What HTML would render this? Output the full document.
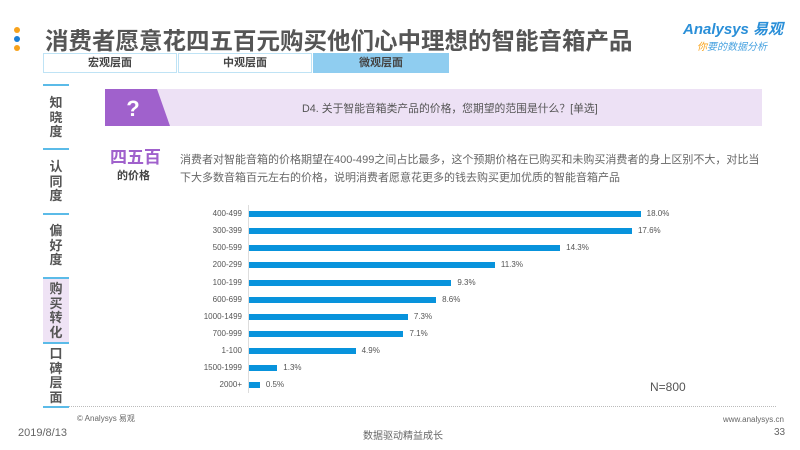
<!DOCTYPE html>
<html><head><meta charset="utf-8"><style>
body{margin:0;width:800px;height:450px;background:#fff;position:relative;overflow:hidden;font-family:"Liberation Sans","Noto Sans CJK SC",sans-serif;color:#555}
.a{position:absolute;white-space:nowrap}
.dot{position:absolute;width:6px;height:6px;border-radius:3px;left:14px}
.tab{position:absolute;top:53px;height:20px;width:134px;border:1px solid #bfe3f5;box-sizing:border-box;text-align:center;font-size:11px;font-weight:bold;line-height:19px;color:#444}
.sl{position:absolute;left:43px;width:26px;height:2px;background:#5bbbe8}
.sv{position:absolute;left:43px;width:26px;text-align:center;font-size:13px;font-weight:bold;line-height:14.5px;color:#555}
.lbl{position:absolute;right:558px;font-size:8px;color:#555;text-align:right}
.bar{position:absolute;left:249px;height:6px;background:#0893dc}
.val{position:absolute;font-size:8px;color:#555}
</style></head><body>
<div class="dot" style="top:27px;background:#f7a21b"></div>
<div class="dot" style="top:36px;background:#1b7fd6"></div>
<div class="dot" style="top:45px;background:#f7a21b"></div>
<div class="a" style="left:45px;top:22px;font-size:23.5px;font-weight:bold;color:#555">消费者愿意花四五百元购买他们心中理想的智能音箱产品</div>
<div class="a" style="left:683px;top:18px;font-size:15px;color:#2a8fd8;font-style:italic;font-weight:bold">Analysys 易观</div>
<div class="a" style="left:697px;top:38px;font-size:10px;color:#4aa3e0;font-style:italic"><span style="color:#f7a21b">你</span>要的数据分析</div>
<div class="tab" style="left:43px">宏观层面</div>
<div class="tab" style="left:178px">中观层面</div>
<div class="tab" style="left:313px;background:#8fcdf0;border-color:#8fcdf0;width:136px">微观层面</div>
<div class="sl" style="top:84px"></div><div class="sl" style="top:148px"></div><div class="sl" style="top:213px"></div>
<div style="position:absolute;left:43px;top:279px;width:26px;height:64px;background:#efe3f5"></div>
<div class="sl" style="top:277px"></div><div class="sl" style="top:342px"></div><div class="sl" style="top:406px"></div>
<div class="sv" style="top:96px">知<br>晓<br>度</div>
<div class="sv" style="top:160px">认<br>同<br>度</div>
<div class="sv" style="top:224px">偏<br>好<br>度</div>
<div class="sv" style="top:282px">购<br>买<br>转<br>化</div>
<div class="sv" style="top:347px">口<br>碑<br>层<br>面</div>
<div style="position:absolute;left:105px;top:89px;width:657px;height:37px;background:#ede1f5"></div>
<svg style="position:absolute;left:105px;top:89px" width="66" height="37"><polygon points="0,0 52,0 65,37 0,37" fill="#a061cc"/><text x="28" y="27" font-size="22" font-weight="bold" fill="#fff" text-anchor="middle" font-family="Liberation Sans">?</text></svg>
<div class="a" style="left:302px;top:100px;font-size:10.8px;color:#555">D4. 关于智能音箱类产品的价格，您期望的范围是什么？[单选]</div>
<div class="a" style="left:110px;top:143px;font-size:17px;font-weight:bold;color:#a061cc">四五百</div>
<div class="a" style="left:117px;top:167px;font-size:11px;font-weight:bold;color:#444">的价格</div>
<div class="a" style="left:180px;top:151px;font-size:11px;line-height:18px;color:#666">消费者对智能音箱的价格期望在400-499之间占比最多，这个预期价格在已购买和未购买消费者的身上区别不大，对比当<br>下大多数音箱百元左右的价格，说明消费者愿意花更多的钱去购买更加优质的智能音箱产品</div>
<div style="position:absolute;left:248px;top:205px;width:1px;height:188px;background:#ddd"></div>
<div id="c"></div>
<script>
var d=[["400-499",18.0],["300-399",17.6],["500-599",14.3],["200-299",11.3],["100-199",9.3],["600-699",8.6],["1000-1499",7.3],["700-999",7.1],["1-100",4.9],["1500-1999",1.3],["2000+",0.5]];
var h="";d.forEach(function(r,i){var y=214+i*17.13;var w=r[1]*21.76;
h+='<div class="lbl" style="top:'+(y-5)+'px">'+r[0]+'</div><div class="bar" style="top:'+(y-3)+'px;width:'+w+'px"></div><div class="val" style="left:'+(249+w+6)+'px;top:'+(y-5)+'px">'+r[1].toFixed(1)+'%</div>';});
document.getElementById("c").innerHTML=h;
</script>
<div class="a" style="left:650px;top:380px;font-size:12px;color:#555">N=800</div>
<div style="position:absolute;left:69px;top:406px;width:707px;border-top:1px dotted #bbb"></div>
<div class="a" style="left:77px;top:413px;font-size:8px;color:#666">© Analysys 易观</div>
<div class="a" style="left:723px;top:415px;font-size:8px;color:#666">www.analysys.cn</div>
<div class="a" style="left:18px;top:427px;font-size:11px;color:#666">2019/8/13</div>
<div class="a" style="left:363px;top:427px;font-size:10px;color:#666">数据驱动精益成长</div>
<div class="a" style="left:774px;top:427px;font-size:10px;color:#666">33</div>
</body></html>
